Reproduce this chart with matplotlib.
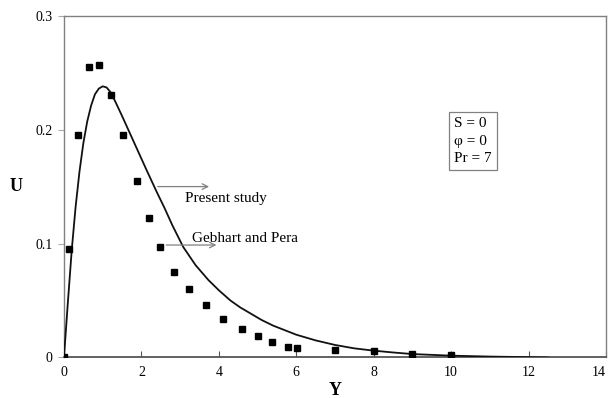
import matplotlib
matplotlib.use("Agg")
import matplotlib.pyplot as plt

# Present study (solid curve)
curve_x = [0, 0.1, 0.2, 0.3, 0.4, 0.5, 0.6, 0.7, 0.8, 0.9, 1.0, 1.1, 1.2, 1.32, 1.5,
           1.66, 1.9, 2.14, 2.4, 2.6, 2.8, 3.08, 3.4, 3.73, 4.0, 4.3, 4.55, 4.8, 5.1,
           5.4, 5.7, 6.0, 6.5, 7.0, 7.5, 8.0, 8.5, 9.0, 10.0, 11.0, 12.0, 12.5]
curve_y = [0, 0.048, 0.094, 0.132, 0.163, 0.188, 0.207, 0.221, 0.231, 0.236, 0.238,
           0.237, 0.233, 0.225, 0.212, 0.200, 0.182, 0.164, 0.145, 0.131, 0.116,
           0.097, 0.081, 0.068, 0.059, 0.050, 0.044, 0.039, 0.033, 0.028, 0.024,
           0.020, 0.015, 0.011, 0.008, 0.006, 0.0044, 0.003, 0.0016, 0.0008,
           0.0003, 0.0]

# Gebhart and Pera (square markers)
gp_x = [0, 0.13, 0.35, 0.65, 0.91, 1.22, 1.52, 1.88, 2.19, 2.49, 2.84, 3.22, 3.66,
        4.11, 4.61, 5.0, 5.37, 5.78, 6.01, 7.0, 8.0, 9.0, 10.0]
gp_y = [0, 0.095, 0.195, 0.255, 0.257, 0.230, 0.195, 0.155, 0.122, 0.097, 0.075,
        0.060, 0.046, 0.034, 0.025, 0.019, 0.014, 0.0092, 0.008, 0.0068, 0.006,
        0.0028, 0.0025]

x_ticks = [0, 2, 4, 6, 8, 10, 12, 14]
y_ticks = [0, 0.1, 0.2, 0.3]
y_tick_labels = ["0", "0.1", "0.2", "0.3"]

plt.rcParams['font.family'] = ['Liberation Serif', 'DejaVu Serif']

fig = plt.figure(figsize=(6.11, 3.98), dpi=100)
ax = fig.add_axes([0.1047, 0.1018, 0.8871, 0.8588])

ax.plot(curve_x, curve_y, color='#111111', lw=1.3, zorder=3)
ax.plot(gp_x, gp_y, linestyle='none', marker='s', ms=3.8, color='black', zorder=4)

ax.set_xlim(0, 14)
ax.set_ylim(0, 0.3)
ax.set_xticks(x_ticks)
ax.set_xticklabels([str(t) for t in x_ticks])
ax.set_yticks(y_ticks)
ax.set_yticklabels(y_tick_labels)
ax.tick_params(axis='x', direction='in', length=4, color='#555555', labelsize=10, pad=6)
ax.tick_params(axis='y', direction='out', length=4, color='#aaaaaa', labelsize=10, pad=4)
# keep last x tick label inside the figure
ax.get_xticklabels()[-1].set_horizontalalignment('right')

for s in ['top', 'right', 'left']:
    ax.spines[s].set_color('#808080')
    ax.spines[s].set_linewidth(1.0)
ax.spines['bottom'].set_color('#555555')
ax.spines['bottom'].set_linewidth(1.3)

ax.set_xlabel('Y', fontsize=13, fontweight='bold', labelpad=2)
ax.set_ylabel('U', fontsize=13, fontweight='bold', rotation=0, labelpad=14, va='center')

arrow_kw = dict(arrowstyle='->', color='#808080', lw=0.9)
ax.annotate('', xy=(3.82, 0.150), xytext=(2.35, 0.150), arrowprops=arrow_kw)
ax.text(3.13, 0.1367, 'Present study', fontsize=11, va='baseline', ha='left')
ax.annotate('', xy=(4.01, 0.0987), xytext=(2.57, 0.0987), arrowprops=arrow_kw)
ax.text(3.30, 0.1013, 'Gebhart and Pera', fontsize=11, va='baseline', ha='left')

ax.text(10.08, 0.190, 'S = 0\nφ = 0\nPr = 7', fontsize=11, va='center', ha='left',
        linespacing=1.45,
        bbox=dict(boxstyle='square,pad=0.35', facecolor='white', edgecolor='#808080', lw=0.9))

fig.savefig('out.png', dpi=100)
